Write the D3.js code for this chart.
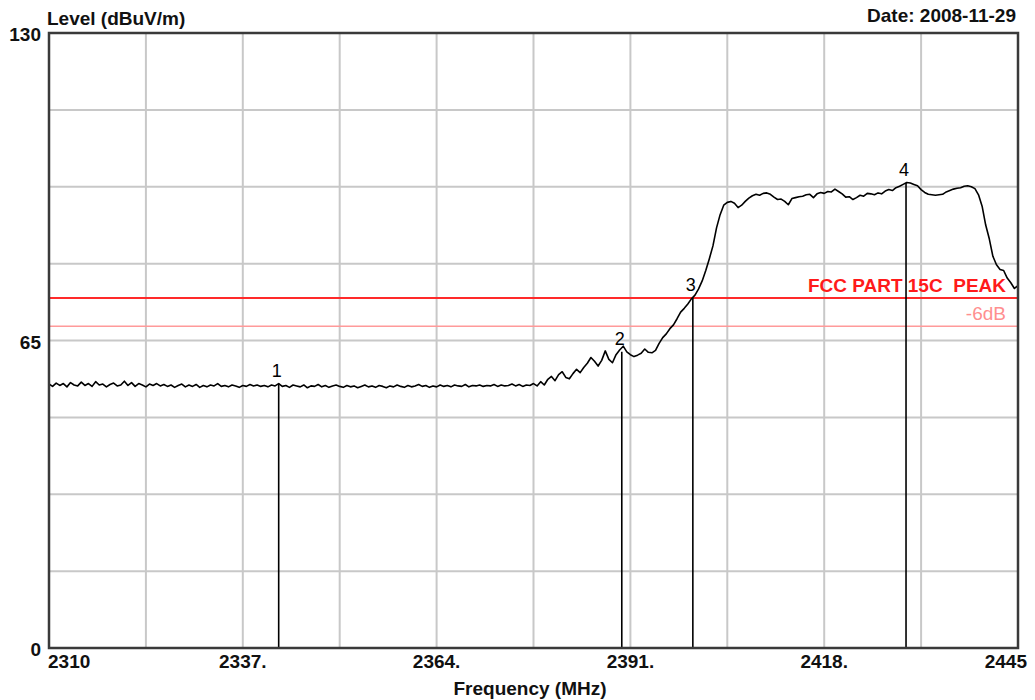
<!DOCTYPE html>
<html>
<head>
<meta charset="utf-8">
<script src="https://cdn.jsdelivr.net/npm/d3@7"></script>
<style>
  html, body { margin: 0; padding: 0; background: #fff; }
  svg { display: block; }
  text { font-family: "Liberation Sans", Arial, sans-serif; }
</style>
</head>
<body>
<svg id="chart" width="1035" height="700"></svg>
<script>
// ---- data ----
const freqStart = 2310;
const freqStep = 0.5;
const levels = [
  55.8, 55.3, 56.0, 55.5, 55.9, 55.2, 56.1, 55.6, 55.4, 56.2,
  55.5, 55.9, 55.3, 56.3, 55.6, 55.8, 55.2, 55.7, 56.0, 55.4,
  55.6, 56.4, 55.5, 56.1, 55.3, 55.9, 55.6, 55.2, 55.8, 55.5,
  55.9, 55.4, 55.7, 55.3, 55.6, 55.1, 55.5, 55.8, 55.2, 55.6,
  55.3, 55.7, 55.1, 55.5, 55.2, 55.6, 55.4, 55.9, 55.3, 55.5,
  55.2, 55.6, 55.4, 55.1, 55.5, 55.3, 55.7, 55.4, 55.6, 55.3,
  55.5, 55.2, 55.6, 55.4, 55.9, 55.3, 55.5, 55.1, 55.6, 55.4,
  55.2, 55.6, 55.0, 55.4, 55.3, 55.7, 55.2, 55.5, 55.1, 55.4,
  55.6, 55.3, 55.1, 55.5, 55.2, 55.4, 55.0, 55.3, 55.6, 55.2,
  55.4, 55.1, 55.5, 55.3, 55.0, 55.4, 55.2, 55.6, 55.3, 55.1,
  55.5, 55.2, 55.4, 55.7, 55.3, 55.5, 55.1, 55.4, 55.2, 55.6,
  55.3, 55.5, 55.2, 55.6, 55.4, 55.3, 55.7, 55.2, 55.5, 55.4,
  55.6, 55.3, 55.5, 55.4, 55.7, 55.3, 55.6, 55.4, 55.5, 55.8,
  55.4, 55.7, 55.3, 55.6, 55.5, 55.9, 55.4, 56.3, 55.6, 56.8,
  57.4, 56.5, 57.8, 58.4, 57.2, 56.9, 58.0, 58.9, 58.2, 59.3,
  60.2, 61.4, 60.6, 59.6, 60.8, 62.8, 61.0, 60.3, 62.0, 63.0,
  63.8, 62.6, 62.0, 61.6, 61.9, 62.3, 63.2, 62.5, 62.4, 62.9,
  64.4, 65.6, 66.4, 67.5, 68.3, 69.6, 71.0, 71.8, 72.7, 73.8,
  74.6, 75.9, 77.6, 79.8, 82.3, 85.0, 88.8, 91.6, 93.6, 94.2,
  94.4, 94.0, 93.1, 93.6, 94.4, 95.1, 95.6, 95.9, 95.7, 96.1,
  96.2, 95.9, 95.3, 94.8, 94.9, 94.4, 93.7, 95.0, 95.2, 95.4,
  95.5, 95.8, 95.9, 95.2, 96.0, 96.3, 96.1, 96.5, 96.4, 97.0,
  96.5, 96.0, 95.3, 95.4, 94.8, 95.2, 95.7, 95.5, 96.1, 96.0,
  95.8, 96.2, 96.0, 96.6, 96.9, 96.7, 97.3, 97.6, 98.0, 98.4,
  98.3, 98.0, 97.7, 96.9, 96.3, 95.9, 95.8, 95.7, 95.8, 95.9,
  96.4, 96.7, 97.0, 97.2, 97.3, 97.6, 97.7, 97.5, 97.1, 95.8,
  93.4, 89.4, 86.5, 82.8, 81.0, 80.0, 79.8, 78.2, 77.2, 76.0,
  76.6
];

const markerLabels = ["1", "2", "3", "4"];
const markerFreqs  = [2342.0, 2389.8, 2399.7, 2429.4];
const markerLevels = [55.9, 62.6, 74.0, 98.3];

const limitLabels = ["FCC PART 15C  PEAK", "-6dB"];
const limitLevels = [74, 68];

const xTickValues = [2310, 2337, 2364, 2391, 2418, 2445];
const xTickLabels = ["2310", "2337.", "2364.", "2391.", "2418.", "2445"];
const yTickValues = [0, 65, 130];
const yTickLabels = ["0", "65", "130"];

const xDomain = [2310, 2445];
const yDomain = [0, 130];
const xDivisions = 10;
const yDivisions = 8;

// ---- layout ----
const pLeft = 49, pRight = 1018, pTop = 33, pBottom = 648;
const svg = d3.select("#chart");
const x = d3.scaleLinear().domain(xDomain).range([pLeft, pRight]);
const y = d3.scaleLinear().domain(yDomain).range([pBottom, pTop]);

// grid
const xGrid = d3.range(1, xDivisions).map(i => xDomain[0] + i * (xDomain[1] - xDomain[0]) / xDivisions);
const yGrid = d3.range(1, yDivisions).map(i => yDomain[0] + i * (yDomain[1] - yDomain[0]) / yDivisions);
svg.append("g").selectAll("line").data(xGrid).join("line")
  .attr("x1", d => x(d)).attr("x2", d => x(d))
  .attr("y1", pTop).attr("y2", pBottom)
  .attr("stroke", "#c8c8c8").attr("stroke-width", 2);
svg.append("g").selectAll("line").data(yGrid).join("line")
  .attr("x1", pLeft).attr("x2", pRight)
  .attr("y1", d => y(d)).attr("y2", d => y(d))
  .attr("stroke", "#c8c8c8").attr("stroke-width", 2);

// limit lines
const limitColors = ["#ff2a2a", "#ff9a9a"];
const limitWidths = [2, 1.6];
svg.append("g").selectAll("line").data(limitLevels).join("line")
  .attr("x1", pLeft).attr("x2", pRight)
  .attr("y1", d => y(d)).attr("y2", d => y(d))
  .attr("stroke", (d, i) => limitColors[i]).attr("stroke-width", (d, i) => limitWidths[i]);

// trace
const data = levels.map((v, i) => [freqStart + i * freqStep, v]);
svg.append("path").datum(data)
  .attr("fill", "none").attr("stroke", "#000").attr("stroke-width", 1.6)
  .attr("stroke-linejoin", "round")
  .attr("d", d3.line().x(d => x(d[0])).y(d => y(d[1])));

// markers
const markers = markerLabels.map((l, i) => ({ l, f: markerFreqs[i], v: markerLevels[i] }));
svg.append("g").selectAll("line").data(markers).join("line")
  .attr("x1", d => x(d.f)).attr("x2", d => x(d.f))
  .attr("y1", d => y(d.v)).attr("y2", pBottom)
  .attr("stroke", "#000").attr("stroke-width", 1.6);
svg.append("g").selectAll("text").data(markers).join("text")
  .attr("x", d => x(d.f) - 2).attr("y", d => y(d.v) - 7)
  .attr("text-anchor", "middle").attr("font-size", 18).attr("fill", "#000")
  .text(d => d.l);

// limit labels
const limitLabelColors = ["#ff1a1a", "#ff8f8f"];
const limitLabelWeights = ["bold", "normal"];
svg.append("g").selectAll("text").data(limitLabels).join("text")
  .attr("x", 1006).attr("y", (d, i) => y(limitLevels[i]) - 6)
  .attr("text-anchor", "end").attr("font-size", 19)
  .attr("font-weight", (d, i) => limitLabelWeights[i])
  .attr("fill", (d, i) => limitLabelColors[i])
  .style("white-space", "pre")
  .text(d => d);

// border
svg.append("rect")
  .attr("x", pLeft).attr("y", pTop).attr("width", pRight - pLeft).attr("height", pBottom - pTop)
  .attr("fill", "none").attr("stroke", "#3a3a3a").attr("stroke-width", 2.5);

// y tick labels
svg.append("g").selectAll("text").data(yTickValues).join("text")
  .attr("x", 41).attr("y", d => y(d) + 8)
  .attr("text-anchor", "end").attr("font-size", 19).attr("font-weight", "bold").attr("fill", "#111")
  .text((d, i) => yTickLabels[i]);

// x tick labels
svg.append("g").selectAll("text").data(xTickValues).join("text")
  .attr("x", (d, i) => i === 0 ? x(d) - 1 : (i === xTickValues.length - 1 ? x(d) + 9 : x(d)))
  .attr("y", 668)
  .attr("text-anchor", (d, i) => i === 0 ? "start" : (i === xTickValues.length - 1 ? "end" : "middle"))
  .attr("font-size", 19).attr("font-weight", "bold").attr("fill", "#111")
  .text((d, i) => xTickLabels[i]);

// titles
svg.append("text").attr("x", 47).attr("y", 25)
  .attr("font-size", 19).attr("font-weight", "bold").attr("fill", "#111")
  .text("Level (dBuV/m)");
svg.append("text").attr("x", 1016).attr("y", 22)
  .attr("text-anchor", "end").attr("font-size", 19).attr("font-weight", "bold").attr("fill", "#111")
  .text("Date: 2008-11-29");
svg.append("text").attr("x", 530).attr("y", 695)
  .attr("text-anchor", "middle").attr("font-size", 19).attr("font-weight", "bold").attr("fill", "#111")
  .text("Frequency (MHz)");
</script>
</body>
</html>
